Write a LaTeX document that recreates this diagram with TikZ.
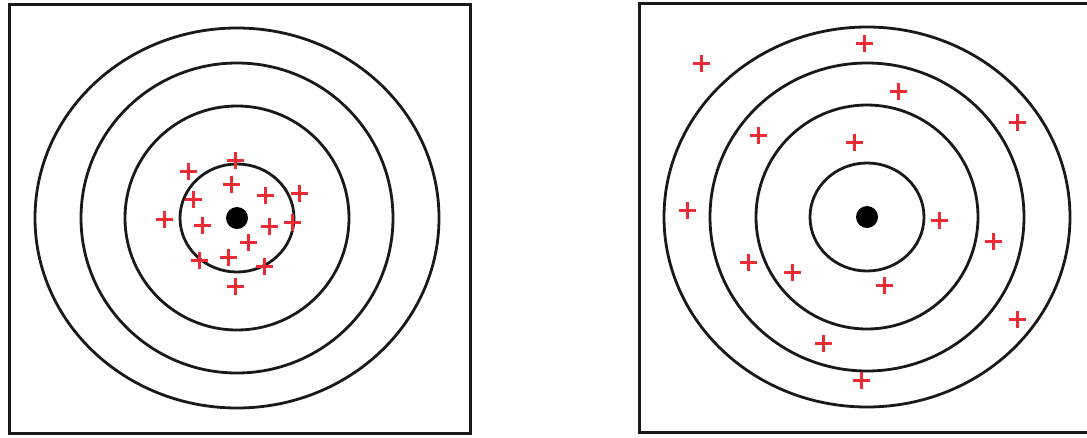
\documentclass[tikz,border=0pt]{standalone}
\definecolor{hitred}{RGB}{238,42,52}
\definecolor{ringgray}{RGB}{25,25,25}
\tikzset{
  x=1pt, y=-1pt,
  frame/.style={draw=ringgray, line width=3pt},
  ring/.style={draw=ringgray, line width=2.8pt},
  bull/.style={fill=black},
  plusmark/.pic={\draw[hitred, line width=3pt] (-8.5,0) -- (8.5,0) (0,-8.5) -- (0,8.5);}
}
\begin{document}
\begin{tikzpicture}
\useasboundingbox (0,0) rectangle (1087,437);
% left target
\draw[frame] (9,4) rectangle (470,433);
\coordinate (cL) at (237,218);
\draw[ring] (cL) ellipse [x radius=202, y radius=190];
\draw[ring] (cL) ellipse [x radius=156, y radius=155];
\draw[ring] (cL) ellipse [x radius=112, y radius=112];
\draw[ring] (cL) ellipse [x radius=57, y radius=54];
\fill[bull] (cL) circle [radius=11];
\foreach \p in {(235,160),(188,171),(231,184),(265,195),(299,193),(193,199),(164,219),(202,225),(269,226),(292,222),(248,242),(228,257),(199,260),(264,266),(235,286)}
  \pic at \p {plusmark};
% right target
\draw[frame] (1095,3) -- (639,3) -- (639,432) -- (1095,432);
\coordinate (cR) at (867,217);
\draw[ring] (cR) ellipse [x radius=203, y radius=190];
\draw[ring] (cR) ellipse [x radius=157, y radius=154];
\draw[ring] (cR) ellipse [x radius=111, y radius=112];
\draw[ring] (cR) ellipse [x radius=57, y radius=54];
\fill[bull] (cR) circle [radius=11];
\foreach \p in {(864,43),(701,63),(898,91),(1017,122),(758,135),(854,142),(687,210),(939,220),(993,241),(748,262),(792,272),(884,285),(1017,319),(823,343),(861,380)}
  \pic at \p {plusmark};
\end{tikzpicture}
\end{document}
